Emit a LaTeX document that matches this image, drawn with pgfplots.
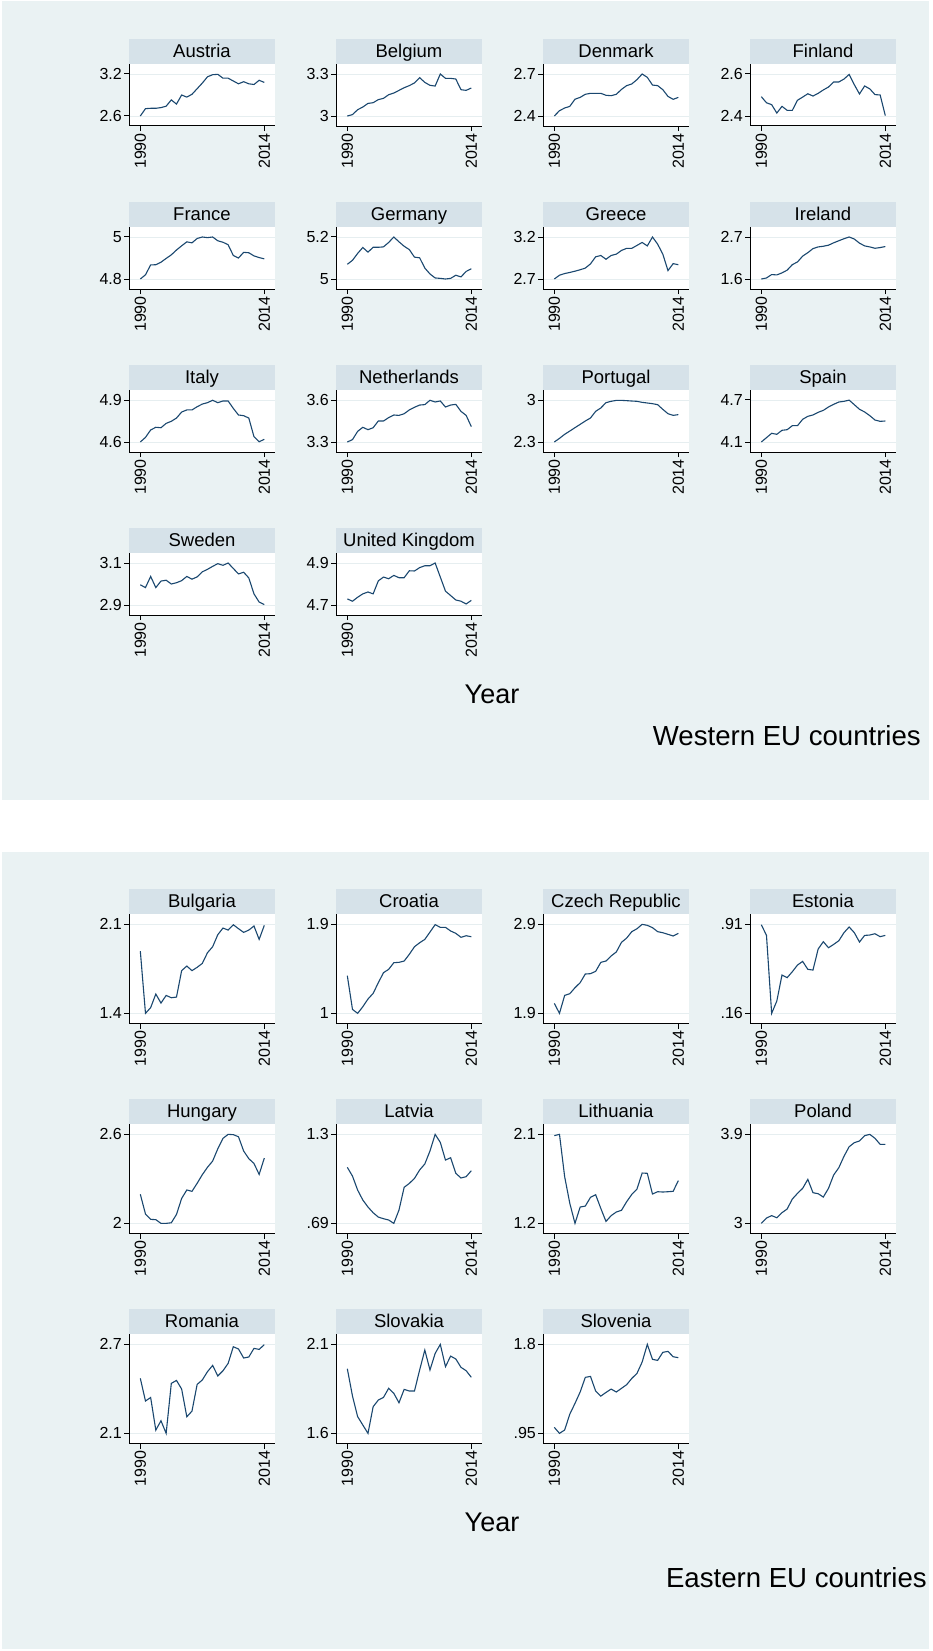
\documentclass[border=0pt]{standalone}
\usepackage{fontspec}
\setmainfont{Liberation Sans}
\usepackage{pgfplots}
\usepackage{pgfplotstable}
\pgfplotsset{compat=1.18}
\definecolor{bgcol}{RGB}{234,242,243}
\definecolor{stripcol}{RGB}{214,226,233}
\definecolor{navy}{RGB}{26,71,111}
\definecolor{gridcol}{RGB}{230,238,240}
\newcommand\tickfont{\fontsize{16}{16}\selectfont}
\newcommand\stripfont{\fontsize{18.5}{18.5}\selectfont}

\pgfplotstableread{
year AT BE DK FI FR DE GR IE IT NL PT ES SE UK
1990 2.600 3.000 2.400 2.492 4.800 5.070 2.700 1.600 4.600 3.300 2.300 4.100 2.996 4.729
1991 2.705 3.010 2.438 2.463 4.820 5.089 2.745 1.627 4.633 3.317 2.361 4.162 2.983 4.718
1992 2.710 3.045 2.457 2.454 4.867 5.122 2.765 1.716 4.686 3.376 2.428 4.224 3.036 4.737
1993 2.710 3.064 2.469 2.414 4.868 5.150 2.778 1.707 4.705 3.405 2.483 4.210 2.983 4.753
1994 2.720 3.090 2.520 2.446 4.880 5.128 2.793 1.760 4.702 3.388 2.539 4.267 3.014 4.762
1995 2.740 3.095 2.533 2.427 4.898 5.151 2.810 1.832 4.733 3.402 2.594 4.276 3.018 4.753
1996 2.830 3.117 2.555 2.427 4.915 5.151 2.830 1.976 4.748 3.450 2.650 4.333 3.000 4.815
1997 2.770 3.126 2.562 2.475 4.938 5.153 2.880 2.047 4.771 3.450 2.700 4.333 3.006 4.833
1998 2.900 3.152 2.562 2.490 4.958 5.174 2.964 2.199 4.814 3.474 2.811 4.424 3.016 4.825
1999 2.870 3.164 2.562 2.506 4.977 5.200 2.980 2.289 4.829 3.493 2.867 4.467 3.036 4.841
2000 2.910 3.183 2.548 2.495 4.972 5.177 2.935 2.396 4.829 3.490 2.956 4.486 3.023 4.830
2001 2.990 3.202 2.545 2.508 4.993 5.156 2.980 2.440 4.852 3.502 2.978 4.524 3.034 4.830
2002 3.070 3.217 2.555 2.524 5.000 5.140 2.996 2.458 4.871 3.529 2.994 4.552 3.058 4.863
2003 3.160 3.236 2.590 2.538 4.997 5.104 3.040 2.485 4.881 3.548 2.994 4.600 3.070 4.862
2004 3.190 3.274 2.617 2.562 5.000 5.101 3.065 2.548 4.898 3.564 2.989 4.638 3.084 4.878
2005 3.195 3.240 2.629 2.562 4.982 5.052 3.065 2.602 4.881 3.567 2.983 4.671 3.097 4.887
2006 3.140 3.219 2.660 2.576 4.975 5.024 3.100 2.655 4.893 3.598 2.978 4.681 3.089 4.887
2007 3.140 3.214 2.700 2.598 4.963 5.005 3.135 2.700 4.893 3.586 2.961 4.698 3.100 4.900
2008 3.100 3.300 2.676 2.549 4.912 5.003 3.094 2.646 4.840 3.593 2.950 4.633 3.074 4.833
2009 3.060 3.269 2.621 2.505 4.900 5.000 3.200 2.539 4.793 3.550 2.939 4.567 3.048 4.766
2010 3.090 3.269 2.617 2.543 4.927 5.003 3.115 2.467 4.788 3.564 2.922 4.529 3.056 4.745
2011 3.060 3.264 2.588 2.529 4.925 5.018 2.996 2.440 4.771 3.569 2.844 4.476 3.029 4.724
2012 3.050 3.188 2.540 2.502 4.910 5.010 2.800 2.405 4.638 3.519 2.772 4.414 2.953 4.718
2013 3.110 3.183 2.519 2.500 4.902 5.036 2.883 2.423 4.602 3.490 2.744 4.395 2.914 4.705
2014 3.080 3.200 2.533 2.402 4.896 5.049 2.870 2.450 4.619 3.410 2.756 4.400 2.902 4.722
}\west

\pgfplotstableread{
year BG HR CZ EE HU LV LT PL RO SK SI
1990 1.890 1.381 2.012 0.907 2.196 1.074 2.087 3.000 2.471 1.963 1.007
1991 1.400 1.040 1.900 0.817 2.063 1.014 2.100 3.054 2.318 1.810 0.950
1992 1.445 1.000 2.102 0.160 2.027 0.918 1.672 3.078 2.342 1.694 0.982
1993 1.552 1.067 2.121 0.264 2.025 0.850 1.402 3.057 2.122 1.647 1.134
1994 1.481 1.145 2.188 0.483 2.000 0.802 1.200 3.108 2.185 1.600 1.236
1995 1.541 1.202 2.245 0.461 2.000 0.763 1.365 3.145 2.100 1.750 1.345
1996 1.523 1.310 2.342 0.511 2.004 0.733 1.375 3.246 2.437 1.787 1.485
1997 1.528 1.411 2.346 0.567 2.060 0.722 1.463 3.303 2.457 1.802 1.494
1998 1.736 1.445 2.372 0.598 2.168 0.713 1.490 3.354 2.399 1.853 1.354
1999 1.772 1.512 2.473 0.531 2.225 0.690 1.351 3.445 2.212 1.825 1.306
2000 1.736 1.516 2.488 0.525 2.216 0.781 1.220 3.310 2.250 1.772 1.341
2001 1.762 1.529 2.545 0.702 2.270 0.937 1.278 3.300 2.430 1.847 1.373
2002 1.793 1.597 2.590 0.764 2.328 0.964 1.315 3.266 2.460 1.838 1.345
2003 1.877 1.674 2.698 0.713 2.378 0.998 1.332 3.354 2.516 1.838 1.380
2004 1.924 1.714 2.746 0.741 2.420 1.056 1.419 3.489 2.558 1.956 1.415
2005 2.019 1.748 2.818 0.772 2.503 1.097 1.493 3.563 2.487 2.068 1.475
2006 2.071 1.822 2.851 0.840 2.573 1.186 1.547 3.678 2.522 1.956 1.523
2007 2.055 1.897 2.900 0.888 2.600 1.300 1.709 3.775 2.572 2.049 1.631
2008 2.097 1.870 2.889 0.840 2.598 1.245 1.706 3.816 2.684 2.100 1.800
2009 2.066 1.870 2.863 0.761 2.584 1.124 1.497 3.833 2.669 1.975 1.657
2010 2.037 1.833 2.818 0.817 2.488 1.140 1.520 3.887 2.608 2.034 1.647
2011 2.055 1.809 2.806 0.820 2.436 1.033 1.517 3.900 2.615 2.018 1.724
2012 2.087 1.769 2.788 0.831 2.404 1.001 1.520 3.860 2.673 1.971 1.733
2013 1.982 1.785 2.769 0.806 2.330 1.010 1.524 3.799 2.666 1.952 1.682
2014 2.092 1.775 2.799 0.817 2.440 1.051 1.632 3.799 2.698 1.915 1.673
}\east

\pgfplotsset{
  panelstyle/.style={
    scale only axis, width=146pt, height=\ph pt,
    anchor=south west,
    xmin=1987.81, xmax=2016.07,
    axis x line*=bottom, axis y line*=left,
    axis line style={black, line width=1pt, -},
    tick style={black, line width=1pt},
    major tick length=5pt, tick align=outside,
    xtick={1990,2014}, xticklabels={1990,2014},
    x tick label style={rotate=90, anchor=east, font=\tickfont, inner sep=2pt},
    y tick label style={font=\tickfont, inner sep=2pt},
    ymajorgrids, grid style={gridcol, line width=0.9pt},
    axis background/.style={fill=white},
    every axis title shift=0pt,
    title style={fill=stripcol, minimum width=146pt, minimum height=25pt,
      inner sep=0pt, text height=15pt, text depth=3pt, font=\stripfont,
      anchor=south, at={(0.5,1)}},
    clip=false,
  }
}

% #1 x-left, #2 y-bottom, #3 table, #4 title, #5 lo, #6 hi, #7 lo label, #8 hi label, #9 column
\newcommand\panel[9]{%
  \pgfmathsetmacro\ylo{#5-\marg*(#6-#5)}%
  \pgfmathsetmacro\yhi{#6+\marg*(#6-#5)}%
  \begin{axis}[panelstyle, at={(#1pt,-#2pt)}, title={#4},
      ymin=\ylo, ymax=\yhi, ytick={#5,#6}, yticklabels={#7,#8}]
    \addplot[no marks, navy, line width=1.1pt] table[x=year, y=#9] {#3};
  \end{axis}}

\begin{document}
\begin{tikzpicture}[x=1pt, y=1pt]
\path[use as bounding box] (0,0) rectangle (932,-1651);
\fill[bgcol] (2,-1) rectangle (929,-800);
\fill[bgcol] (2,-851.5) rectangle (929,-1649);

% Western
\def\ph{62}\def\marg{0.2381}
\panel{129}{126}{\west}{Austria}{2.6}{3.2}{2.6}{3.2}{AT}
\panel{336}{126}{\west}{Belgium}{3}{3.3}{3}{3.3}{BE}
\panel{543}{126}{\west}{Denmark}{2.4}{2.7}{2.4}{2.7}{DK}
\panel{750}{126}{\west}{Finland}{2.4}{2.6}{2.4}{2.6}{FI}
\panel{129}{289}{\west}{France}{4.8}{5}{4.8}{5}{FR}
\panel{336}{289}{\west}{Germany}{5}{5.2}{5}{5.2}{DE}
\panel{543}{289}{\west}{Greece}{2.7}{3.2}{2.7}{3.2}{GR}
\panel{750}{289}{\west}{Ireland}{1.6}{2.7}{1.6}{2.7}{IE}
\panel{129}{452}{\west}{Italy}{4.6}{4.9}{4.6}{4.9}{IT}
\panel{336}{452}{\west}{Netherlands}{3.3}{3.6}{3.3}{3.6}{NL}
\panel{543}{452}{\west}{Portugal}{2.3}{3}{2.3}{3}{PT}
\panel{750}{452}{\west}{Spain}{4.1}{4.7}{4.1}{4.7}{ES}
\panel{129}{615}{\west}{Sweden}{2.9}{3.1}{2.9}{3.1}{SE}
\panel{336}{615}{\west}{United Kingdom}{4.7}{4.9}{4.7}{4.9}{UK}
\node[anchor=base, font=\fontsize{27}{27}\selectfont, inner sep=0pt] at (492,-703) {Year};
\node[anchor=base east, font=\fontsize{27.6}{27.6}\selectfont, inner sep=0pt] at (921,-745) {Western EU countries};

% Eastern
\def\ph{109.7}\def\marg{0.1163}
\panel{129}{1023.7}{\east}{Bulgaria}{1.4}{2.1}{1.4}{2.1}{BG}
\panel{336}{1023.7}{\east}{Croatia}{1}{1.9}{1}{1.9}{HR}
\panel{543}{1023.7}{\east}{Czech Republic}{1.9}{2.9}{1.9}{2.9}{CZ}
\panel{750}{1023.7}{\east}{Estonia}{0.16}{0.91}{.16}{.91}{EE}
\panel{129}{1233.7}{\east}{Hungary}{2}{2.6}{2}{2.6}{HU}
\panel{336}{1233.7}{\east}{Latvia}{0.69}{1.3}{.69}{1.3}{LV}
\panel{543}{1233.7}{\east}{Lithuania}{1.2}{2.1}{1.2}{2.1}{LT}
\panel{750}{1233.7}{\east}{Poland}{3}{3.9}{3}{3.9}{PL}
\panel{129}{1443.7}{\east}{Romania}{2.1}{2.7}{2.1}{2.7}{RO}
\panel{336}{1443.7}{\east}{Slovakia}{1.6}{2.1}{1.6}{2.1}{SK}
\panel{543}{1443.7}{\east}{Slovenia}{0.95}{1.8}{.95}{1.8}{SI}
\node[anchor=base, font=\fontsize{27}{27}\selectfont, inner sep=0pt] at (492,-1531.7) {Year};
\node[anchor=base east, font=\fontsize{27.6}{27.6}\selectfont, inner sep=0pt] at (927,-1587.7) {Eastern EU countries};
\end{tikzpicture}
\end{document}
